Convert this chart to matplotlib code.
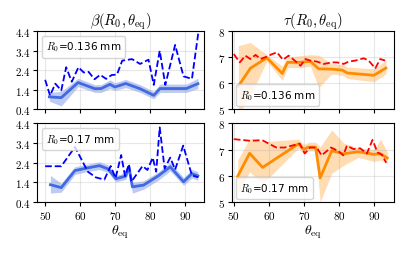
import matplotlib
matplotlib.use('Agg')
import matplotlib.pyplot as plt
from matplotlib.lines import Line2D
from matplotlib.ticker import FuncFormatter

plt.rcParams['mathtext.fontset'] = 'cm'

# beta, R0 = 0.136 mm
b1_x = [51.2, 54.6, 59.4, 64.2, 66.0, 68.5, 69.9, 73.0, 77.1, 81.0, 82.8, 90.3, 93.6]
b1_y = [1.02, 0.98, 1.76, 1.44, 1.45, 1.67, 1.53, 1.71, 1.44, 1.10, 1.45, 1.45, 1.70]
b1_lo = [0.80, 0.55, 1.55, 1.25, 1.25, 1.45, 1.35, 1.50, 1.25, 0.92, 1.25, 1.25, 1.45]
b1_hi = [1.25, 1.30, 1.98, 1.65, 1.65, 1.90, 1.75, 1.92, 1.65, 1.30, 1.68, 1.68, 1.98]
b1d_x = [50.0, 51.4, 52.9, 54.6, 56.0, 57.6, 59.5, 61.0, 62.4, 64.1, 65.7, 67.4, 69.0,
         70.5, 72.0, 74.8, 77.1, 79.5, 81.0, 82.7, 84.3, 87.1, 89.5, 91.9, 93.8]
b1d_y = [1.90, 1.09, 1.70, 1.35, 2.55, 1.80, 2.55, 2.28, 2.31, 1.93, 2.16, 1.95, 2.15,
         2.17, 2.89, 2.97, 2.72, 2.94, 1.64, 3.40, 1.64, 3.70, 2.08, 1.95, 4.43]

# beta, R0 = 0.17 mm
b2_x = [51.5, 54.6, 58.5, 62.0, 65.5, 68.0, 70.2, 73.0, 73.9, 74.9, 78.1, 82.2, 85.7, 89.5, 91.9, 93.6]
b2_y = [1.28, 1.13, 2.00, 2.13, 2.25, 2.08, 1.58, 1.72, 2.20, 1.17, 1.26, 1.72, 2.19, 1.43, 1.84, 1.73]
b2_lo = [0.85, 0.90, 1.80, 1.95, 2.05, 1.90, 1.42, 1.55, 2.00, 0.85, 1.05, 1.50, 1.98, 1.25, 1.62, 1.50]
b2_hi = [1.75, 1.35, 2.20, 2.32, 2.45, 2.28, 1.75, 1.90, 2.40, 1.40, 1.48, 1.92, 2.40, 1.65, 2.05, 1.95]
b2d_x = [50.0, 54.6, 58.5, 62.2, 64.5, 66.9, 68.7, 70.1, 71.7, 72.8, 73.9, 74.6, 77.8,
         79.2, 80.7, 81.7, 82.7, 84.1, 85.7, 87.1, 89.4, 91.9, 93.7]
b2d_y = [2.22, 2.22, 3.20, 1.94, 1.65, 1.54, 2.23, 1.62, 2.79, 1.72, 2.32, 1.43, 2.23,
         2.03, 2.66, 1.94, 4.20, 2.10, 2.66, 2.05, 3.27, 1.75, 1.66]

# tau, R0 = 0.136 mm
t1_x = [51.3, 54.7, 59.4, 63.8, 65.3, 68.5, 71.8, 74.2, 77.8, 80.9, 82.3, 89.9, 93.3]
t1_y = [5.88, 6.57, 6.98, 6.37, 6.80, 6.80, 6.84, 6.55, 6.54, 6.50, 6.39, 6.30, 6.58]
t1_lo = [4.80, 5.50, 6.85, 6.10, 6.60, 6.60, 6.65, 5.82, 6.35, 6.30, 6.18, 6.05, 6.35]
t1_hi = [7.45, 7.57, 7.10, 6.65, 7.00, 7.05, 7.10, 7.08, 6.75, 6.72, 6.62, 6.55, 6.87]
t1d_x = [50.0, 51.7, 53.3, 54.7, 56.2, 57.6, 59.5, 60.9, 62.3, 64.0, 65.6, 67.1, 69.0,
         70.4, 71.8, 73.7, 75.6, 78.0, 79.4, 81.3, 82.7, 84.6, 87.0, 88.4, 90.3, 91.7, 93.1]
t1d_y = [7.12, 6.80, 7.06, 6.93, 7.09, 6.93, 7.03, 7.12, 7.19, 6.90, 7.06, 6.90, 6.67,
         6.93, 6.87, 6.83, 6.74, 6.80, 6.80, 6.74, 6.83, 6.87, 6.96, 6.87, 6.57, 6.93, 6.87]

# tau, R0 = 0.17 mm
t2_x = [51.1, 54.5, 58.2, 68.4, 69.9, 71.3, 73.3, 74.6, 77.9, 81.3, 85.4, 89.9, 91.8, 93.7]
t2_y = [5.98, 6.86, 6.32, 7.22, 7.01, 7.10, 7.09, 5.92, 6.96, 6.84, 6.92, 6.82, 6.84, 6.68]
t2_lo = [5.30, 6.15, 5.70, 7.05, 6.85, 6.95, 6.95, 5.00, 6.10, 6.40, 6.70, 6.55, 6.60, 6.48]
t2_hi = [6.60, 7.42, 7.30, 7.40, 7.20, 7.28, 7.28, 7.10, 7.75, 7.25, 7.07, 7.00, 7.40, 6.90]
t2d_x = [50.0, 54.5, 58.1, 62.1, 64.5, 68.8, 70.2, 71.7, 73.6, 75.0, 77.7, 79.7, 81.2,
         82.2, 84.1, 86.0, 87.9, 89.5, 90.9, 92.2, 93.4]
t2d_y = [7.40, 7.34, 7.36, 7.08, 7.08, 7.23, 6.85, 7.08, 7.08, 6.78, 7.08, 6.95, 6.78,
         7.15, 7.02, 7.05, 6.85, 7.37, 6.90, 6.80, 6.50]

labels = [r'$R_0$=0.136 mm', r'$R_0$=0.17 mm']
beta_ticks = [0.4, 1.4, 2.4, 3.4, 4.4]
tau_ticks = [5, 6, 7, 8]
x_ticks = [50, 60, 70, 80, 90]

fig = plt.figure(figsize=(4.07, 2.55), dpi=100)
axes = [[fig.add_axes([0.092, 0.569, 0.408, 0.304]), fig.add_axes([0.571, 0.569, 0.396, 0.304])],
        [fig.add_axes([0.092, 0.204, 0.408, 0.308]), fig.add_axes([0.571, 0.204, 0.396, 0.308])]]

beta_data = [(b1_x, b1_y, b1_lo, b1_hi, b1d_x, b1d_y), (b2_x, b2_y, b2_lo, b2_hi, b2d_x, b2d_y)]
tau_data = [(t1_x, t1_y, t1_lo, t1_hi, t1d_x, t1d_y), (t2_x, t2_y, t2_lo, t2_hi, t2d_x, t2d_y)]

fmt = FuncFormatter(lambda v, p: '$%g$' % v)

for row in range(2):
    # beta column
    ax = axes[row][0]
    x, y, lo, hi, dx, dy = beta_data[row]
    ax.fill_between(x, lo, hi, color='royalblue', alpha=0.35, lw=0)
    ax.plot(x, y, color='royalblue', lw=2)
    ax.plot(dx, dy, '--', color='b', lw=1.3)
    ax.set_ylim(0.4, 4.4)
    ax.set_yticks(beta_ticks)
    ax.set_xlim(47.8, 95.2)
    ax.legend(handles=[Line2D([], [], alpha=0)], labels=[labels[row]], loc='upper left',
              handlelength=0, handletextpad=0, fontsize=7.5, borderaxespad=0.4)

    # tau column
    ax = axes[row][1]
    x, y, lo, hi, dx, dy = tau_data[row]
    ax.fill_between(x, lo, hi, color='darkorange', alpha=0.3, lw=0)
    ax.plot(x, y, color='darkorange', lw=2)
    ax.plot(dx, dy, '--', color='r', lw=1.3)
    ax.set_ylim(5, 8)
    ax.set_yticks(tau_ticks)
    ax.set_xlim(49.6, 95.5)
    ax.legend(handles=[Line2D([], [], alpha=0)], labels=[labels[row]], loc='lower left',
              handlelength=0, handletextpad=0, fontsize=7.5, borderaxespad=0.3)

for row in range(2):
    for col in range(2):
        ax = axes[row][col]
        ax.grid(alpha=0.3)
        ax.set_xticks(x_ticks)
        ax.xaxis.set_major_formatter(fmt)
        ax.yaxis.set_major_formatter(fmt)
        ax.tick_params(labelsize=8, length=3, pad=2)
        if row == 0:
            ax.tick_params(labelbottom=False)
        else:
            ax.set_xlabel(r'$\theta_{\rm eq}$', fontsize=10, labelpad=1)

axes[0][0].set_title(r'$\beta(R_0,\theta_{\rm eq})$', fontsize=10.5, pad=4)
axes[0][1].set_title(r'$\tau(R_0,\theta_{\rm eq})$', fontsize=10.5, pad=4)

fig.savefig('out.png', dpi=100)
